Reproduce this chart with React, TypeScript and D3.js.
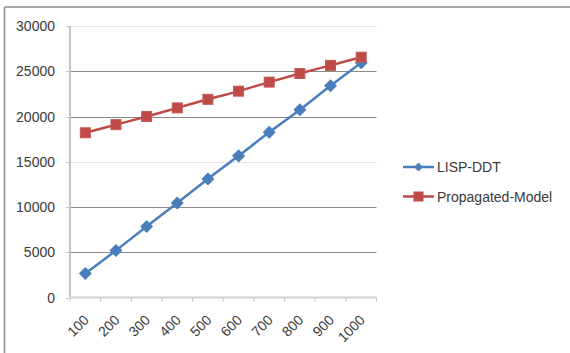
import React from "react";
import * as d3 from "d3";

const categories = ["100", "200", "300", "400", "500", "600", "700", "800", "900", "1000"];
const lispDdt = [2650, 5200, 7850, 10450, 13100, 15650, 18250, 20750, 23400, 25950];
const propagatedModel = [18200, 19100, 20000, 20950, 21900, 22800, 23800, 24750, 25650, 26550];
const yTicks = [0, 5000, 10000, 15000, 20000, 25000, 30000];
const seriesNames = ["LISP-DDT", "Propagated-Model"];

const W = 570;
const H = 353;
const plot = { left: 70, right: 376.5, top: 26, bottom: 297.5 };
const BLUE = "#4a7ebb";
const RED = "#be4b48";
const FONT = "'Liberation Sans', Arial, sans-serif";
const TEXT = "#3a3a3a";

export default function App() {
  const x = d3
    .scaleBand<string>()
    .domain(categories)
    .range([plot.left, plot.right])
    .paddingInner(0)
    .paddingOuter(0);
  const y = d3.scaleLinear().domain([0, 30000]).range([plot.bottom, plot.top]);
  const cx = (c: string) => (x(c) as number) + x.bandwidth() / 2;

  const line = d3
    .line<number>()
    .x((_, i) => cx(categories[i]))
    .y((v) => y(v))
    .curve(d3.curveCatmullRom.alpha(0.5));

  const diamond = (px: number, py: number, r: number) =>
    `M${px},${py - r}L${px + r},${py}L${px},${py + r}L${px - r},${py}Z`;

  // gridline shades alternate as in the rendered sheet
  const gridColor = (t: number) =>
    t === 30000 || t === 15000 ? "#e6e6e6" : "#8a8a8a";

  const boundaries = d3.range(categories.length + 1).map((i) => plot.left + i * x.bandwidth());

  const legendY = [167, 196.5];
  const legendX0 = 403;
  const legendX1 = 434;

  return (
    <svg width={W} height={H} style={{ position: "absolute", left: 0, top: 0, background: "#fff" }}>
      {/* outer frame (top and left edges) */}
      <line x1={4.5} y1={7} x2={W} y2={7} stroke="#8c8c8c" strokeWidth={1.5} />
      <line x1={4.5} y1={7} x2={4.5} y2={H} stroke="#8c8c8c" strokeWidth={1.5} />

      {/* horizontal gridlines */}
      {yTicks
        .filter((t) => t > 0)
        .map((t) => (
          <line key={t} x1={plot.left} x2={plot.right} y1={Math.round(y(t)) + 0.5} y2={Math.round(y(t)) + 0.5} stroke={gridColor(t)} strokeWidth={1} />
        ))}

      {/* y axis */}
      <line x1={plot.left} x2={plot.left} y1={plot.top} y2={plot.bottom} stroke="#c4c4c4" strokeWidth={2} />
      {yTicks.map((t) => (
        <g key={t}>
          <line x1={plot.left - 4} x2={plot.left} y1={Math.round(y(t)) + 0.5} y2={Math.round(y(t)) + 0.5} stroke="#c4c4c4" strokeWidth={1} />
          <text x={55} y={y(t) + 5} textAnchor="end" fontFamily={FONT} fontSize={14} fill={TEXT}>
            {t}
          </text>
        </g>
      ))}

      {/* x axis */}
      <line x1={plot.left} x2={plot.right} y1={plot.bottom} y2={plot.bottom} stroke="#d0d0d0" strokeWidth={2} />
      {boundaries.map((bx, i) => (
        <line key={i} x1={bx} x2={bx} y1={plot.bottom} y2={plot.bottom + 4} stroke="#c4c4c4" strokeWidth={1} />
      ))}
      {categories.map((c) => {
        const ex = cx(c) + 4.5;
        const ey = 321;
        return (
          <text key={c} x={ex} y={ey} textAnchor="end" transform={`rotate(-45 ${ex} ${ey})`} fontFamily={FONT} fontSize={14} fill={TEXT}>
            {c}
          </text>
        );
      })}

      {/* LISP-DDT series */}
      <path d={line(lispDdt) || ""} fill="none" stroke={BLUE} strokeWidth={2.5} />
      {lispDdt.map((v, i) => (
        <path key={i} d={diamond(cx(categories[i]), y(v), 5.5)} fill={BLUE} stroke={BLUE} strokeWidth={1.5} strokeLinejoin="round" />
      ))}

      {/* Propagated-Model series */}
      <path d={line(propagatedModel) || ""} fill="none" stroke={RED} strokeWidth={2.5} />
      {propagatedModel.map((v, i) => (
        <rect key={i} x={cx(categories[i]) - 5} y={y(v) - 5} width={10} height={10} fill={RED} stroke="#c65a57" strokeWidth={1} />
      ))}

      {/* legend */}
      <line x1={legendX0} x2={legendX1} y1={legendY[0]} y2={legendY[0]} stroke={BLUE} strokeWidth={2.5} />
      <path d={diamond((legendX0 + legendX1) / 2, legendY[0], 4)} fill={BLUE} stroke={BLUE} strokeWidth={1} />
      <text x={437} y={legendY[0] + 5} fontFamily={FONT} fontSize={14} fill={TEXT}>
        {seriesNames[0]}
      </text>
      <line x1={legendX0} x2={legendX1} y1={legendY[1]} y2={legendY[1]} stroke={RED} strokeWidth={2.5} />
      <rect x={(legendX0 + legendX1) / 2 - 5} y={legendY[1] - 5} width={10} height={10} fill={RED} />
      <text x={437} y={legendY[1] + 5} fontFamily={FONT} fontSize={14} fill={TEXT}>
        {seriesNames[1]}
      </text>
    </svg>
  );
}
